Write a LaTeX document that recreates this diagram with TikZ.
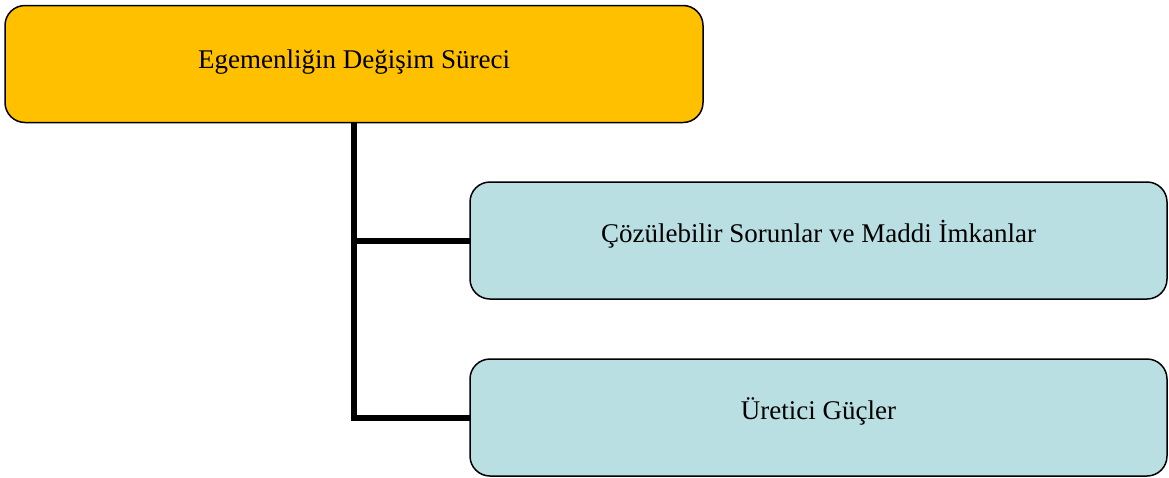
\documentclass[tikz,border=0pt]{standalone}
\usepackage{fontspec}
\setmainfont{Liberation Serif}
\definecolor{gold}{HTML}{FFC000}
\definecolor{paleblue}{HTML}{B9DFE3}
\begin{document}
\begin{tikzpicture}[x=1pt,y=-1pt,
  boxstyle/.style={draw=black,line width=1.5pt,rounded corners=20pt,
    inner sep=0pt,outer sep=0pt,font=\fontsize{27}{31}\selectfont,
    minimum height=117pt,text depth=9pt,text height=17pt},
  topbox/.style={boxstyle,fill=gold,minimum width=698pt},
  childbox/.style={boxstyle,fill=paleblue,minimum width=697pt,text depth=13pt},
  conn/.style={line width=6pt,line join=miter}]
\useasboundingbox (0,0) rectangle (1169,477);
\fill[white] (0,0) rectangle (1169,477);
\node[topbox] (top) at (354,64) {Egemenliğin Değişim Süreci};
\node[childbox] (c1) at (818.5,240.5) {Çözülebilir Sorunlar ve Maddi İmkanlar};
\node[childbox] (c2) at (818.5,417.5) {Üretici Güçler};
\draw[conn] (top.south) |- (c2.west);
\draw[conn] (top.south |- c1.west) -- (c1.west);
\end{tikzpicture}
\end{document}
